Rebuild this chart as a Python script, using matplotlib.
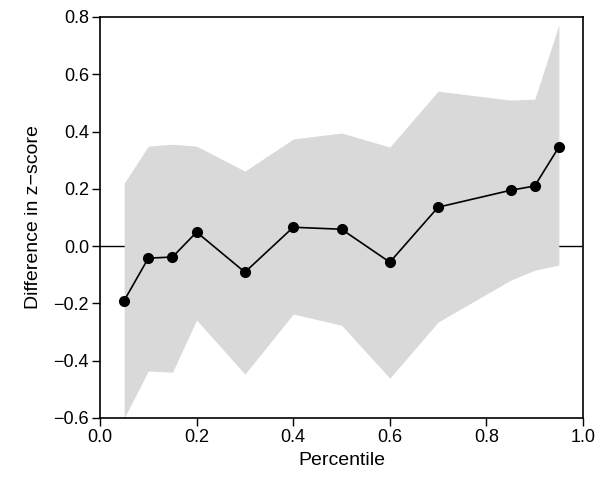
import numpy as np
import matplotlib.pyplot as plt

plt.rcParams['font.family'] = ['Liberation Sans', 'DejaVu Sans']

# 百分位与差值
percentile = [0.05, 0.10, 0.15, 0.20, 0.30, 0.40, 0.50, 0.60, 0.70, 0.85, 0.90, 0.95]
diff = [-0.19, -0.042, -0.038, 0.049, -0.091, 0.066, 0.059, -0.056, 0.136, 0.195, 0.21, 0.346]
# 置信区间上下界
upper = [0.22, 0.349, 0.356, 0.349, 0.262, 0.374, 0.395, 0.346, 0.541, 0.51, 0.513, 0.772]
lower = [-0.60, -0.436, -0.44, -0.258, -0.447, -0.237, -0.276, -0.461, -0.265, -0.119, -0.084, -0.066]

fig = plt.figure(figsize=(6, 5), dpi=100)
ax = fig.add_axes([0.1667, 0.164, 0.805, 0.802])

# 零线先画, 被阴影盖住
ax.axhline(0, color='black', lw=1, zorder=1)
ax.fill_between(percentile, lower, upper, color='#d9d9d9', lw=0, zorder=2)
ax.plot(percentile, diff, color='black', lw=1.2, marker='o', markersize=7, zorder=3)

ax.set_xlim(0, 1)
ax.set_ylim(-0.6, 0.8)
ax.set_xticks(np.arange(0, 1.01, 0.2))
ax.set_yticks(np.arange(-0.6, 0.81, 0.2))
ax.set_xticklabels(['0.0', '0.2', '0.4', '0.6', '0.8', '1.0'])
ax.set_yticklabels(['\u22120.6', '\u22120.4', '\u22120.2', '0.0', '0.2', '0.4', '0.6', '0.8'])
ax.tick_params(direction='out', length=6, width=1, labelsize=13, pad=2)
for s in ax.spines.values():
    s.set_linewidth(1.2)

ax.set_xlabel('Percentile', fontsize=14, labelpad=4)
ax.set_ylabel('Difference in z\u2212score', fontsize=14, labelpad=8)

fig.savefig('out.png', dpi=100)
